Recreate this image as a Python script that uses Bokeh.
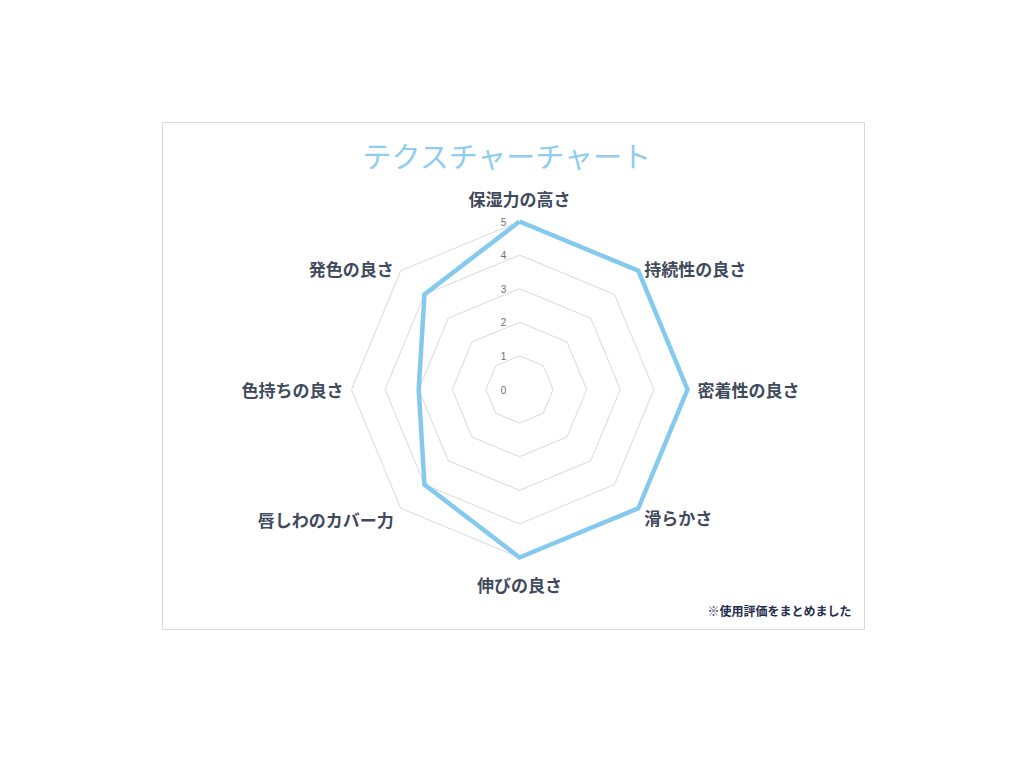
import numpy as np
from bokeh.plotting import figure
from bokeh.models import Label, ColumnDataSource, Range1d
from bokeh.core.properties import value
from bokeh.embed import file_html
from bokeh.resources import INLINE

categories = ["保湿力の高さ", "持続性の良さ", "密着性の良さ", "滑らかさ",
              "伸びの良さ", "唇しわのカバー力", "色持ちの良さ", "発色の良さ"]
scores = [5, 5, 5, 5, 5, 4, 3, 4]
tick_values = [0, 1, 2, 3, 4, 5]
tick_labels = ["0", "1", "2", "3", "4", "5"]
title_text = "テクスチャーチャート"
note_text = "※使用評価をまとめました"

FONT = "Noto Sans CJK JP"
n = len(categories)
angles = np.pi / 2 - np.arange(n) * 2 * np.pi / n

W, H = 703, 508
scale = 33.6
cx, cy = 357, 267
p = figure(width=W, height=H, output_backend="svg", toolbar_location=None,
           x_range=Range1d(-cx / scale, (W - cx) / scale),
           y_range=Range1d(-(H - cy) / scale, cy / scale),
           min_border=0, margin=(122, 0, 0, 162))
p.axis.visible = False
p.grid.visible = False
p.outline_line_color = "#d9d9d9"
p.outline_line_width = 1
p.background_fill_color = "white"
p.border_fill_color = "white"

# grid rings
for t in tick_values[1:]:
    xs = list(t * np.cos(angles)) + [t * np.cos(angles[0])]
    ys = list(t * np.sin(angles)) + [t * np.sin(angles[0])]
    p.line(xs, ys, line_color="#d9d9d9", line_width=1)

# tick labels
p.text(x=[0] * len(tick_values), y=tick_values, text=tick_labels,
       text_font=value("Liberation Sans"), text_font_size="10px",
       text_color="#6f6f6f", text_align="center", text_baseline="middle",
       x_offset=-16)

# data line
sx = [s * np.cos(a) for s, a in zip(scores, angles)]
sy = [s * np.sin(a) for s, a in zip(scores, angles)]
p.line(sx + [sx[0]], sy + [sy[0]], line_color="#84c9ee", line_width=4.5,
       line_join="miter")

# category labels
rmax = tick_values[-1]
aligns = ["center", "left", "left", "left", "center", "right", "right", "right"]
xoffs = [0, 6, 10, 6, 0, -7, -8, -7]
yoffs = [-23, -2, 0, 9, 27, 11, 0, -2]
src = ColumnDataSource(dict(
    x=list(rmax * np.cos(angles)), y=list(rmax * np.sin(angles)),
    text=categories, align=aligns, xo=xoffs, yo=yoffs))
p.text(x="x", y="y", text="text", source=src, text_align="align",
       x_offset="xo", y_offset="yo", text_baseline="middle",
       text_font=value(FONT), text_font_size="17px", text_font_style="bold",
       text_color="#3f4a5c")

p.add_layout(Label(x=345, y=H - 32, x_units="screen", y_units="screen",
                   text=title_text, text_font=FONT, text_font_size="29px",
                   text_color="#8ecdf0", text_align="center",
                   text_baseline="middle"))
p.add_layout(Label(x=689, y=20, x_units="screen", y_units="screen",
                   text=note_text, text_font=FONT, text_font_size="12px",
                   text_font_style="bold", text_color="#1f2d4d",
                   text_align="right", text_baseline="middle"))

open("out.html", "w").write(file_html(p, INLINE))
